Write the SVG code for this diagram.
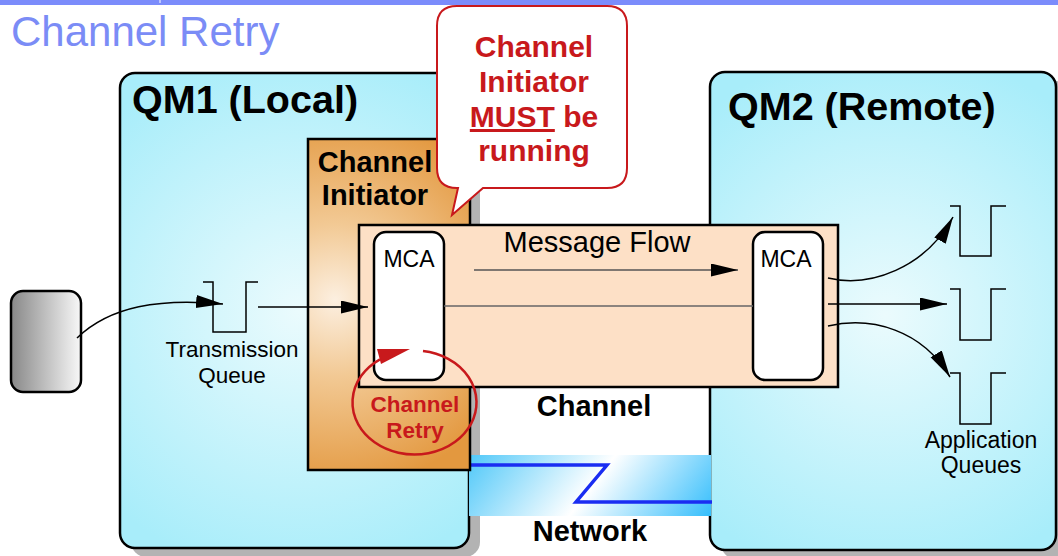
<svg xmlns="http://www.w3.org/2000/svg" width="1058" height="556" viewBox="0 0 1058 556">
<defs>
<radialGradient id="qm1g" gradientUnits="userSpaceOnUse" cx="300" cy="310" r="270"><stop offset="0" stop-color="#ebfbfd"/><stop offset="1" stop-color="#a8edfa"/></radialGradient>
<radialGradient id="qm2g" gradientUnits="userSpaceOnUse" cx="885" cy="315" r="270"><stop offset="0" stop-color="#ebfbfd"/><stop offset="1" stop-color="#a8edfa"/></radialGradient>
<radialGradient id="cig" gradientUnits="userSpaceOnUse" cx="335" cy="300" r="190"><stop offset="0" stop-color="#fcefe0"/><stop offset="0.4" stop-color="#f2c994"/><stop offset="1" stop-color="#e3983f"/></radialGradient>
<linearGradient id="appg" x1="0" y1="0" x2="1" y2="0"><stop offset="0" stop-color="#888"/><stop offset="1" stop-color="#f8f8f8"/></linearGradient>
<linearGradient id="netg" gradientUnits="userSpaceOnUse" x1="490" y1="406" x2="696" y2="564"><stop offset="0" stop-color="#3cc2f8"/><stop offset="0.5" stop-color="#ffffff"/><stop offset="1" stop-color="#16b4fb"/></linearGradient>
<marker id="arr" markerUnits="userSpaceOnUse" markerWidth="28" markerHeight="14" refX="27" refY="6.5" orient="auto"><path d="M0,0 L27,6.5 L0,13 z" fill="#000"/></marker>
<style>
.t{font-family:"Liberation Sans",Arial,sans-serif}
.b{font-weight:bold}
.box{stroke:#000;stroke-width:2.5}
.shadow{fill:#b3b3b3}
.q{fill:none;stroke:#000;stroke-width:1.5}
.ln{fill:none;stroke:#000;stroke-width:1.5}
.red{fill:#c8191c}
</style>
</defs>
<rect x="0" y="0" width="1058" height="5" fill="#7b8cfb"/>
<rect x="159.5" y="0" width="1" height="3" fill="#fff"/>
<text class="t" x="11" y="46" font-size="42" fill="#7b8cf6">Channel Retry</text>

<g id="qm1">
<rect class="shadow" x="131" y="82" width="349" height="475" rx="15"/>
<rect class="box" x="120" y="73" width="349" height="475" rx="15" fill="url(#qm1g)"/>
<text class="t b" x="132" y="113" font-size="39.5">QM1 (Local)</text>
</g>
<g id="qm2">
<rect class="shadow" x="721" y="81" width="349" height="478" rx="15"/>
<rect class="box" x="710" y="72" width="346" height="478" rx="15" fill="url(#qm2g)"/>
<text class="t b" x="728" y="120" font-size="39.5">QM2 (Remote)</text>
</g>
<g id="network">
<rect x="469" y="455" width="242" height="61" fill="url(#netg)"/>
<path d="M469,465 L607,465 L576,502 L712,502" fill="none" stroke="#1a2df2" stroke-width="3.5"/>
<text class="t b" x="590" y="541" font-size="29" text-anchor="middle">Network</text>
</g>
<g id="channel-initiator">
<rect class="box" x="308" y="139" width="162" height="331" fill="url(#cig)"/>
<text class="t b" x="375" y="172" font-size="29" text-anchor="middle">Channel</text>
<text class="t b" x="375" y="205" font-size="29" text-anchor="middle">Initiator</text>
</g>
<g id="channel">
<rect class="box" x="359" y="225" width="479" height="162" fill="#fde0c6"/>
<text class="t" x="597" y="252" font-size="29" text-anchor="middle">Message Flow</text>
<text class="t b" x="594" y="416" font-size="29" text-anchor="middle">Channel</text>
</g>
<g id="app">
<rect class="box" x="11" y="291" width="70" height="101" rx="12" fill="url(#appg)"/>
</g>
<g id="transmission-queue">
<polyline class="q" points="203,282 213,282 213,332 246,332 246,282 258,282"/>
<text class="t" x="232" y="357" font-size="22.5" text-anchor="middle">Transmission</text>
<text class="t" x="232" y="383" font-size="22.5" text-anchor="middle">Queue</text>
</g>
<g id="mca-left">
<rect class="box" x="374" y="232" width="70" height="148" rx="12" fill="#fff"/>
<text class="t" x="409" y="267" font-size="23" text-anchor="middle">MCA</text>
</g>
<g id="mca-right">
<rect class="box" x="753" y="232" width="70" height="148" rx="12" fill="#fff"/>
<text class="t" x="786" y="267" font-size="23" text-anchor="middle">MCA</text>
</g>
<g id="app-queues">
<polyline class="q" points="950,206 960,206 960,256 991,256 991,206 1006,206"/>
<polyline class="q" points="950,289 960,289 960,340 991,340 991,289 1006,289"/>
<polyline class="q" points="950,373 960,373 960,424 991,424 991,373 1006,373"/>
<text class="t" x="981" y="448" font-size="23" text-anchor="middle">Application</text>
<text class="t" x="981" y="473" font-size="23" text-anchor="middle">Queues</text>
</g>
<g id="connectors">
<path class="ln" d="M77,338 C110,306 160,298 223,304" marker-end="url(#arr)"/>
<path class="ln" d="M258,307 L368,307" stroke="#333" marker-end="url(#arr)"/>
<path d="M444,306 L753,306" fill="none" stroke="#666" stroke-width="1.5"/>
<path d="M474,270 L738,270" fill="none" stroke="#555" stroke-width="1.5" marker-end="url(#arr)"/>
<path class="ln" d="M828,278 C870,288 925,268 953,217" marker-end="url(#arr)"/>
<path class="ln" d="M828,304 L947,304" marker-end="url(#arr)"/>
<path class="ln" d="M828,326 C872,316 922,330 950,377" marker-end="url(#arr)"/>
</g>
<g id="channel-retry">
<path d="M423,351 A62,52 0 1 1 380,359.3" fill="none" stroke="#c8191c" stroke-width="2.5"/>
<polygon class="red" points="410,349 377,349 381,364"/>
<text class="t b red" x="415" y="412" font-size="22.5" text-anchor="middle">Channel</text>
<text class="t b red" x="415" y="438" font-size="22.5" text-anchor="middle">Retry</text>
</g>
<g id="callout">
<path d="M457,6 L607,6 Q627,6 627,26 L627,168 Q627,188 607,188 L483,188 L452,215 L458,188 L457,188 Q437,188 437,168 L437,26 Q437,6 457,6 Z" fill="#fff" stroke="#c8191c" stroke-width="2"/>
<text class="t b red" x="534" y="57" font-size="30" text-anchor="middle">Channel</text>
<text class="t b red" x="534" y="92" font-size="30" text-anchor="middle">Initiator</text>
<text class="t b red" x="534" y="127" font-size="30" text-anchor="middle"><tspan text-decoration="underline">MUST</tspan> be</text>
<text class="t b red" x="534" y="161" font-size="30" text-anchor="middle">running</text>
</g>
</svg>
